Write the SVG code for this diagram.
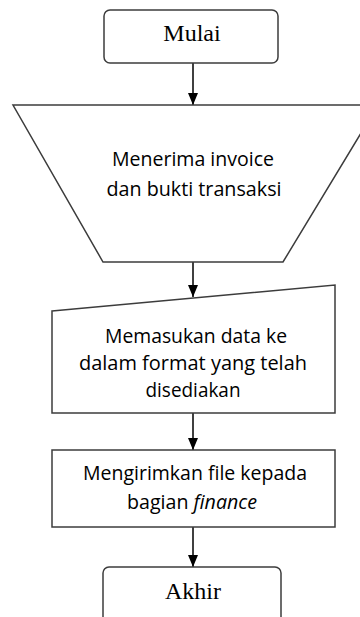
<svg xmlns="http://www.w3.org/2000/svg" width="360" height="617" viewBox="0 0 360 617">
<style>
.shape{fill:#fff;stroke:#3c3c3c;stroke-width:1.5}
.term{font-family:"Liberation Serif",serif;font-size:24px;fill:#000;text-anchor:middle}
.lbl{font-family:"Open Sans","Noto Sans",sans-serif;font-size:20px;fill:#000;text-anchor:middle}
.conn{stroke:#000;stroke-width:1.5;fill:none;marker-end:url(#arr)}
</style>
<defs>
<marker id="arr" markerWidth="12" markerHeight="10" refX="12" refY="5" orient="auto" markerUnits="userSpaceOnUse" viewBox="0 0 12 10">
<path d="M0,0 L12,5 L0,10 Z" fill="#000"/>
</marker>
</defs>
<rect width="360" height="617" fill="#fff"/>
<g id="connectors">
<line class="conn" x1="193" y1="63" x2="193" y2="105"/>
<line class="conn" x1="193" y1="262" x2="193" y2="297"/>
<line class="conn" x1="193" y1="413" x2="193" y2="450"/>
<line class="conn" x1="193" y1="527" x2="193" y2="567"/>
</g>
<g id="mulai">
<rect class="shape" x="104" y="10" width="174" height="53" rx="6"/>
<text class="term" x="192" y="41">Mulai</text>
</g>
<g id="menerima">
<polygon class="shape" points="13,105 378,105 283,262 103,262"/>
<text class="lbl" x="193" y="166" textLength="162" lengthAdjust="spacingAndGlyphs">Menerima invoice</text>
<text class="lbl" x="194" y="196" textLength="175" lengthAdjust="spacingAndGlyphs">dan bukti transaksi</text>
</g>
<g id="memasukan">
<polygon class="shape" points="52,311 335,285 335,413 52,413"/>
<text class="lbl" x="196" y="343" textLength="182" lengthAdjust="spacingAndGlyphs">Memasukan data ke</text>
<text class="lbl" x="193" y="370" textLength="228" lengthAdjust="spacingAndGlyphs">dalam format yang telah</text>
<text class="lbl" x="193" y="397" textLength="95" lengthAdjust="spacingAndGlyphs">disediakan</text>
</g>
<g id="mengirimkan">
<rect class="shape" x="52" y="450" width="283" height="77"/>
<text class="lbl" x="195" y="480" textLength="224" lengthAdjust="spacingAndGlyphs">Mengirimkan file kepada</text>
<text class="lbl" x="192" y="509" textLength="130" lengthAdjust="spacingAndGlyphs">bagian <tspan font-style="italic">finance</tspan></text>
</g>
<g id="akhir">
<rect class="shape" x="103" y="567" width="178" height="70" rx="6"/>
<text class="term" x="193" y="599">Akhir</text>
</g>
</svg>
